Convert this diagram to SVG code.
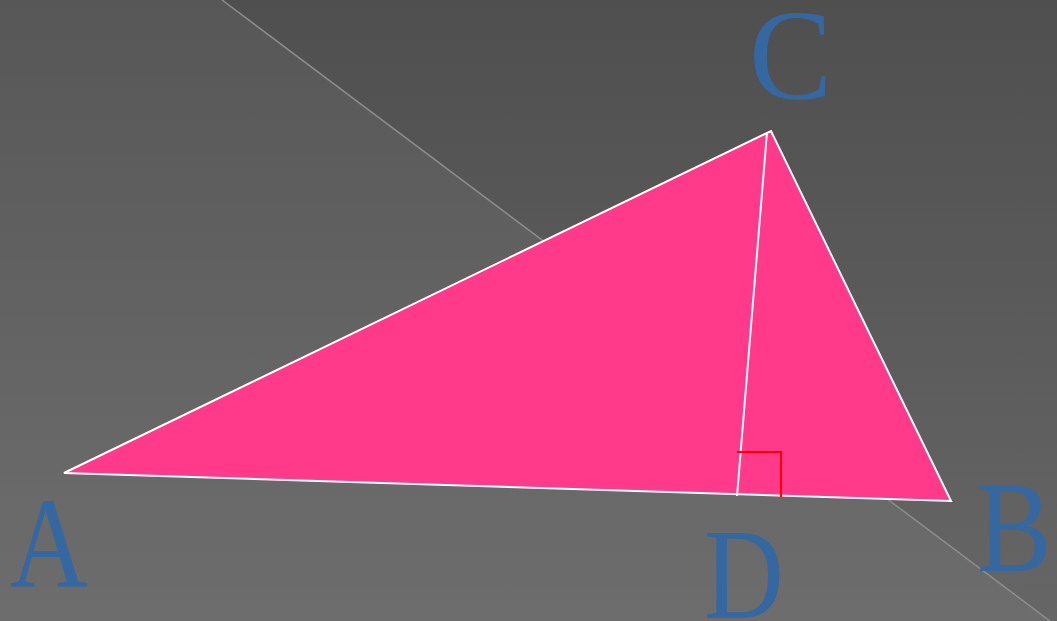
<svg xmlns="http://www.w3.org/2000/svg" width="1057" height="621" viewBox="0 0 1057 621">
<defs>
<linearGradient id="bg" x1="0" y1="0" x2="0" y2="1">
<stop offset="0" stop-color="#4f4f4f"/>
<stop offset="1" stop-color="#666666"/>
</linearGradient>
<style>
.lbl{font-family:"Liberation Serif","DejaVu Serif",serif;font-size:130px;fill:#3567a0}
.tri{fill:#ff3a8a;stroke:#ffffff;stroke-width:2;stroke-linejoin:miter}
.alt{stroke:#ffffff;stroke-width:2;fill:none}
.ra{stroke:#ff0000;stroke-width:2;fill:none}
</style>
</defs>
<rect width="1057" height="621" fill="url(#bg)"/>
<polygon points="0,0 222,0 1050,621 0,621" fill="#ffffff" fill-opacity="0.05"/>
<line x1="222" y1="0" x2="1050" y2="621" stroke="#8c8c8c" stroke-width="1.5"/>
<g id="triangle">
<polygon class="tri" points="64,473 771,131 951,501"/>
</g>
<g id="connectors">
<line class="alt" x1="767" y1="132" x2="737" y2="496"/>
<polyline class="ra" points="737,452 781,452 781,497"/>
</g>
<g id="label-A"><text class="lbl" transform="translate(10,587) scale(0.83,1)">A</text></g>
<g id="label-C"><text class="lbl" transform="translate(749,99) scale(0.96,1)">C</text></g>
<g id="label-B"><text class="lbl" transform="translate(977,571) scale(0.86,1)">B</text></g>
<g id="label-D"><text class="lbl" transform="translate(704,618) scale(0.85,1)">D</text></g>
</svg>
